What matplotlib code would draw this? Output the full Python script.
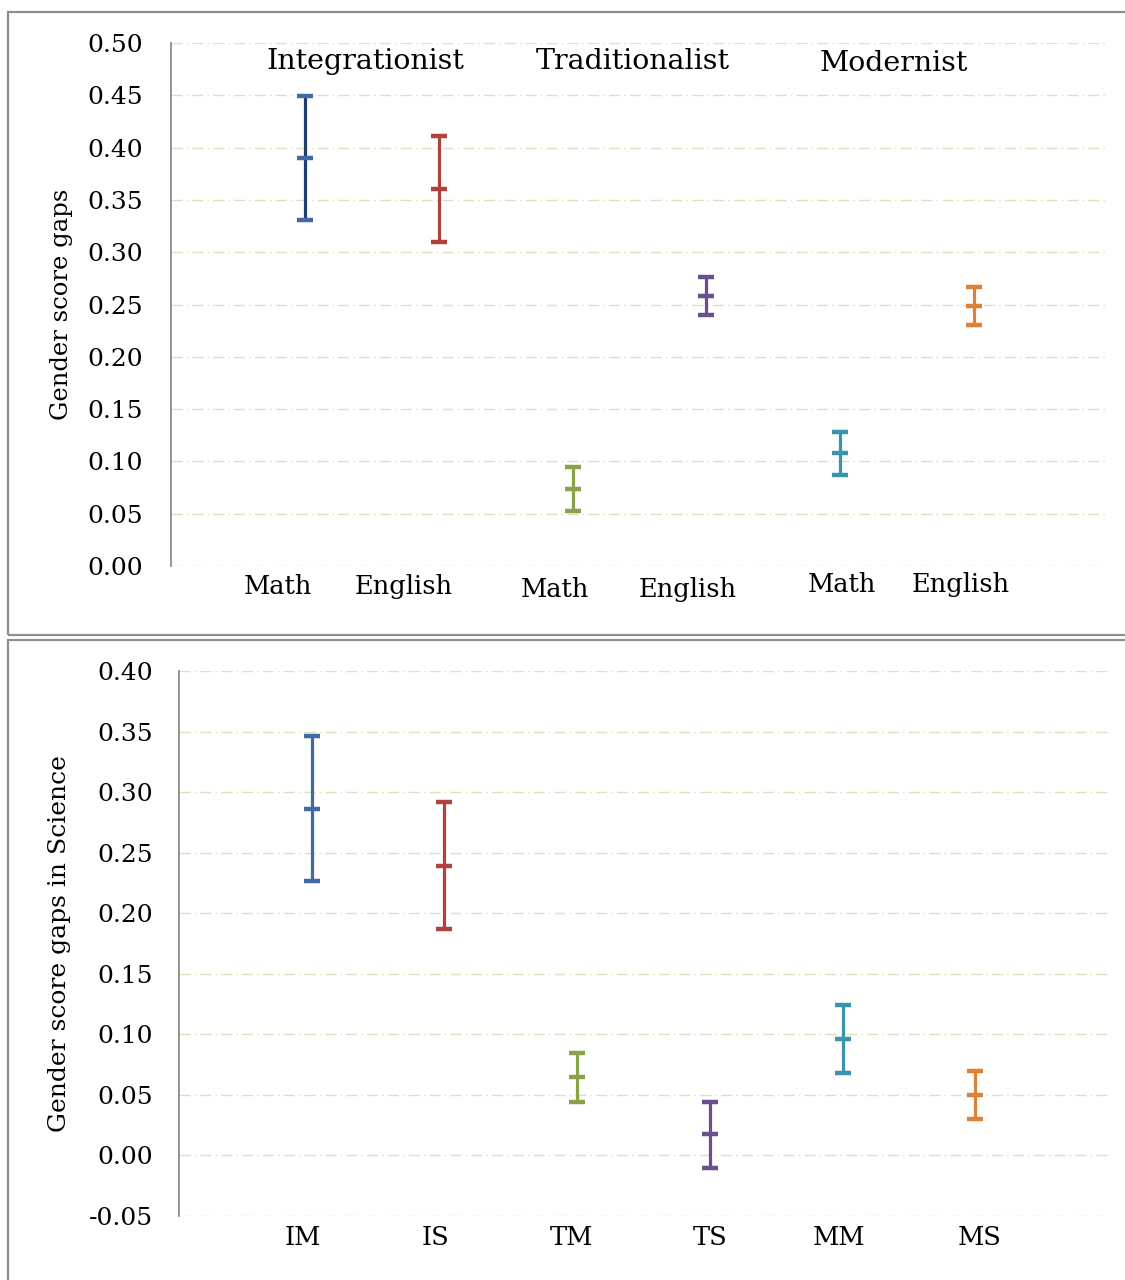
import matplotlib
matplotlib.use("Agg")
import matplotlib.pyplot as plt
from matplotlib.patches import Rectangle
from matplotlib.transforms import blended_transform_factory
import numpy as np

plt.rcParams['font.family'] = ['DejaVu Serif']

# Panel 1: Math and English gaps by school type
top_groups = ["Integrationist", "Traditionalist", "Modernist"]
top_subjects = ["Math", "English", "Math", "English", "Math", "English"]
top_mean = [0.390, 0.360, 0.074, 0.258, 0.108, 0.249]
top_low = [0.331, 0.310, 0.053, 0.240, 0.087, 0.230]
top_high = [0.449, 0.411, 0.095, 0.276, 0.128, 0.267]
top_yticks = [0.00, 0.05, 0.10, 0.15, 0.20, 0.25, 0.30, 0.35, 0.40, 0.45, 0.50]

# Panel 2: Science gaps
sci_labels = ["IM", "IS", "TM", "TS", "MM", "MS"]
sci_mean = [0.286, 0.239, 0.065, 0.018, 0.096, 0.050]
sci_low = [0.227, 0.187, 0.044, -0.010, 0.068, 0.030]
sci_high = [0.346, 0.292, 0.085, 0.044, 0.124, 0.070]
sci_yticks = [-0.05, 0.00, 0.05, 0.10, 0.15, 0.20, 0.25, 0.30, 0.35, 0.40]

cap_colors = ["#3E6AA5", "#B0413E", "#86A447", "#6A4F8E", "#3A95AC", "#DE8136"]
top_line_colors = ["#1F3D6E", "#B0413E", "#86A447", "#6A4F8E", "#3A95AC", "#DE8136"]
sci_line_colors = ["#3E6AA5", "#B0413E", "#86A447", "#6A4F8E", "#3A95AC", "#DE8136"]

W, H = 1125, 1280
fig = plt.figure(figsize=(W / 100, H / 100), dpi=100)


def fx(px):
    return px / W


def fy(py):
    return 1 - py / H


# panel frames
for y0, y1 in [(12, 635), (640, 1290)]:
    fig.patches.append(Rectangle((fx(8), fy(y1)), fx(1140) - fx(8), fy(y0) - fy(y1),
                                 transform=fig.transFigure, fill=False,
                                 edgecolor="#8E8E8E", lw=1.6, zorder=0))

ax1 = fig.add_axes([fx(171), fy(566), fx(1108) - fx(171), fy(43) - fy(566)])
ax2 = fig.add_axes([fx(179), fy(1216), fx(1108) - fx(179), fy(671) - fy(1216)])


def draw_intervals(ax, mean, low, high, line_colors):
    xs = np.arange(1, len(mean) + 1)
    for i, x in enumerate(xs):
        ax.errorbar([x], [mean[i]],
                    yerr=[[mean[i] - low[i]], [high[i] - mean[i]]],
                    fmt="none", ecolor=line_colors[i], elinewidth=2.3,
                    capsize=0, zorder=3)
        ax.plot([x, x, x], [low[i], mean[i], high[i]], linestyle="none",
                marker="_", markersize=11, markeredgewidth=3.2,
                color=cap_colors[i], zorder=4)


def style_axis(ax, yticks, pad):
    ax.set_xlim(0, 7)
    ax.set_ylim(yticks[0], yticks[-1])
    ax.set_yticks(yticks)
    ax.set_yticklabels([f"{v:.2f}" for v in yticks], fontsize=18)
    for v in yticks:
        ax.axhline(v, color="#D9E3BE", lw=1.0, linestyle=(0, (8, 3, 1, 3)), zorder=1)
    for s in ["top", "right", "bottom"]:
        ax.spines[s].set_visible(False)
    ax.spines["left"].set_color("#8C8C8C")
    ax.spines["left"].set_linewidth(1.3)
    ax.tick_params(axis="y", length=0, pad=pad)
    ax.tick_params(axis="x", length=0)


style_axis(ax1, top_yticks, 20)
draw_intervals(ax1, top_mean, top_low, top_high, top_line_colors)
ax1.set_xticks([])
ax1.set_ylabel("Gender score gaps", fontsize=17.5)
ax1.yaxis.set_label_coords(-0.105, 0.5)

tr1 = blended_transform_factory(ax1.transData, ax1.transAxes)
subject_x = [0.80, 1.74, 2.87, 3.86, 5.01, 5.90]
subject_y = [-0.040, -0.040, -0.044, -0.044, -0.036, -0.036]
for x, y, s in zip(subject_x, subject_y, top_subjects):
    ax1.text(x, y, s, transform=tr1, ha="center", va="center", fontsize=18.5)
group_x = [1.45, 3.45, 5.40]
group_y = [0.965, 0.965, 0.960]
for x, y, g in zip(group_x, group_y, top_groups):
    ax1.text(x, y, g, transform=tr1, ha="center", va="center", fontsize=20.5)

style_axis(ax2, sci_yticks, 19)
draw_intervals(ax2, sci_mean, sci_low, sci_high, sci_line_colors)
ax2.set_xticks([])
tr2 = blended_transform_factory(ax2.transData, ax2.transAxes)
sci_label_x = [0.93, 1.93, 2.96, 4.00, 4.97, 6.03]
for x, s in zip(sci_label_x, sci_labels):
    ax2.text(x, -0.040, s, transform=tr2, ha="center", va="center", fontsize=18.5)
ax2.set_ylabel("Gender score gaps in Science", fontsize=18)
ax2.yaxis.set_label_coords(-0.116, 0.5)

fig.savefig("out.png", dpi=100, facecolor="white")
